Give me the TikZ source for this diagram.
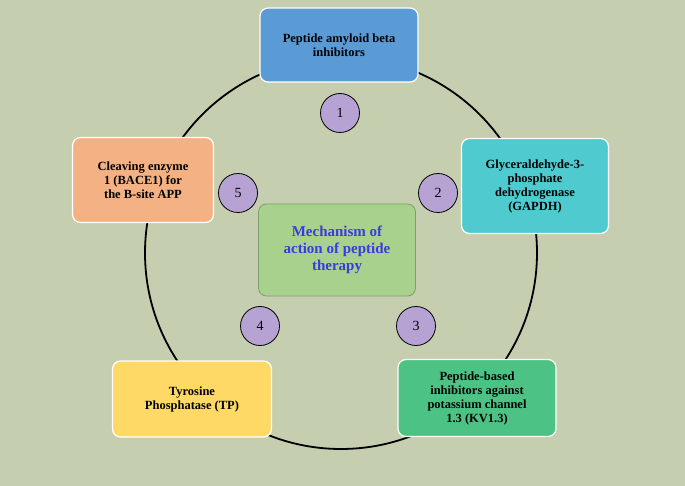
\documentclass[tikz,border=0pt]{standalone}
\usepackage{fontspec}
\setmainfont{Liberation Serif}
\begin{document}
\begin{tikzpicture}[x=1pt,y=-1pt,
  box/.style={draw=white,line width=1.2pt,rounded corners=8pt,align=center,font=\bfseries\fontsize{12.5}{14}\selectfont},
  num/.style={circle,draw=black,line width=0.8pt,fill=numc,minimum size=39pt,inner sep=0pt,font=\fontsize{14}{16}\selectfont}]
\definecolor{bg}{HTML}{C5CEAE}
\definecolor{numc}{HTML}{B6A3D4}
\definecolor{cA}{HTML}{5B9BD5}
\definecolor{cB}{HTML}{4FCBD0}
\definecolor{cC}{HTML}{4CC384}
\definecolor{cD}{HTML}{FFD966}
\definecolor{cE}{HTML}{F4B183}
\definecolor{cF}{HTML}{A9D18E}
\definecolor{cFd}{HTML}{7F9F6A}
\definecolor{cT}{HTML}{3A3AE0}
\fill[bg] (0,0) rectangle (685,486);
\useasboundingbox (0,0) rectangle (685,486);
\node[circle,draw=black,line width=1.8pt,minimum size=392pt,inner sep=0pt] (ring) at (341,253) {};
\node[box,fill=cA,minimum width=158pt,minimum height=74pt] (b1) at (339,45) {Peptide amyloid beta\\inhibitors};
\node[box,fill=cB,minimum width=147pt,minimum height=95pt] (b2) at (535,186) {Glyceraldehyde-3-\\phosphate\\dehydrogenase\\(GAPDH)};
\node[box,fill=cC,minimum width=158pt,minimum height=77pt] (b3) at (477,398) {Peptide-based\\inhibitors against\\potassium channel\\1.3 (KV1.3)};
\node[box,fill=cD,minimum width=159pt,minimum height=76pt] (b4) at (192,399) {Tyrosine\\Phosphatase (TP)};
\node[box,fill=cE,minimum width=141pt,minimum height=85pt] (b5) at (143,180) {Cleaving enzyme\\1 (BACE1) for\\the B-site APP};
\node[box,draw=cFd,line width=0.8pt,fill=cF,text=cT,minimum width=157pt,minimum height=92pt,font=\bfseries\fontsize{15}{17}\selectfont] (c) at (337,250) {Mechanism of\\action of peptide\\therapy};
\node[num] (n1) at (340,113) {1};
\node[num] (n2) at (438,193) {2};
\node[num] (n3) at (416,326) {3};
\node[num] (n4) at (260,326) {4};
\node[num] (n5) at (238,193) {5};
\end{tikzpicture}
\end{document}
